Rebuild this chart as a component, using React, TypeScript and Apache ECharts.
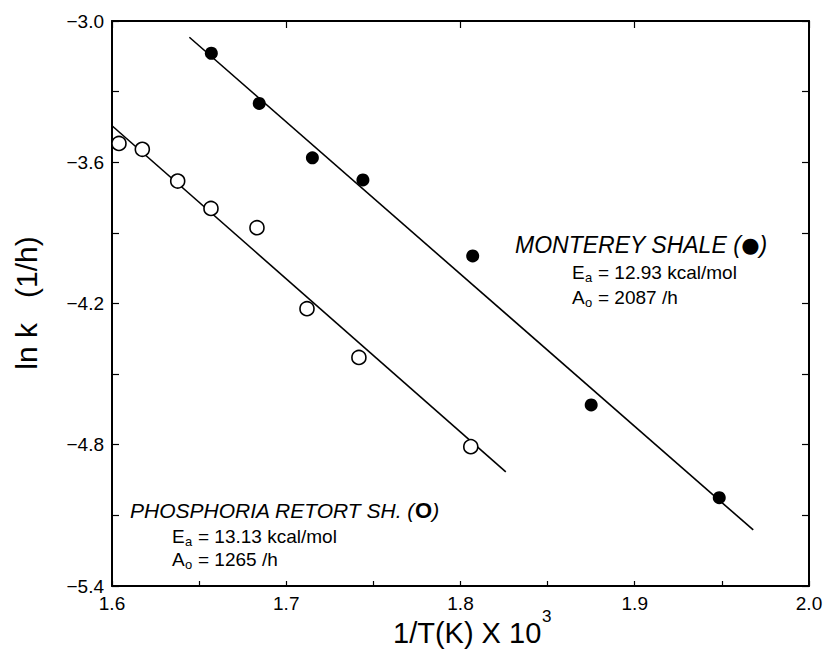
import React, { useEffect, useRef } from "react";
import * as echarts from "echarts";

// Data
const montereyPoints: [number, number][] = [
  [1.657, -3.137],
  [1.6845, -3.35],
  [1.715, -3.581],
  [1.744, -3.675],
  [1.807, -3.998],
  [1.875, -4.631],
  [1.9485, -5.025],
];
const phosphoriaPoints: [number, number][] = [
  [1.604, -3.52],
  [1.6174, -3.545],
  [1.6377, -3.68],
  [1.6568, -3.796],
  [1.6832, -3.878],
  [1.7119, -4.222],
  [1.7417, -4.429],
  [1.8059, -4.808],
];
const montereyFit: [number, number][] = [
  [1.6444, -3.069],
  [1.968, -5.162],
];
const phosphoriaFit: [number, number][] = [
  [1.6, -3.445],
  [1.826, -4.915],
];
const xMin = 1.6;
const xMax = 2.0;
const yMin = -5.4;
const yMax = -3.0;

const FONT = "'Liberation Sans', Arial, Helvetica, sans-serif";

export default function App() {
  const ref = useRef<HTMLDivElement>(null);
  useEffect(() => {
    if (!ref.current) return;
    const chart = echarts.init(ref.current, null, { renderer: "svg" });
    const axisLine = { show: true, lineStyle: { color: "#000", width: 2 } };
    const tickStyle = { color: "#000", width: 1.2 };
    const txt = (
      text: string,
      x: number,
      y: number,
      size: number,
      extra: any = {},
      el: any = {}
    ) => ({
      type: "text",
      x,
      y,
      silent: true,
      ...el,
      style: {
        text,
        fontSize: size,
        fontFamily: FONT,
        fill: "#000",
        align: "left",
        verticalAlign: "middle",
        textAlign: "left",
        textVerticalAlign: "middle",
        ...extra,
      },
    });
    chart.setOption({
      animation: false,
      backgroundColor: "#fff",
      grid: { left: 112, top: 21, width: 697, height: 565 },
      xAxis: [
        {
          type: "value",
          position: "bottom",
          min: xMin,
          max: xMax,
          interval: 0.05,
          axisLine,
          axisTick: { show: true, inside: true, length: 5, lineStyle: tickStyle },
          axisLabel: {
            show: true,
            margin: 8,
            color: "#000",
            fontSize: 19,
            fontFamily: FONT,
            hideOverlap: false,
            formatter: (v: number) =>
              Math.round(v * 100) % 10 === 0 ? v.toFixed(1) : "",
          },
          splitLine: { show: false },
        },
        {
          type: "value",
          position: "top",
          min: xMin,
          max: xMax,
          interval: 0.1,
          axisLine,
          axisTick: { show: true, inside: true, length: 7, lineStyle: tickStyle },
          axisLabel: { show: false },
          splitLine: { show: false },
        },
      ],
      yAxis: [
        {
          type: "value",
          position: "left",
          min: yMin,
          max: yMax,
          interval: 0.3,
          axisLine,
          axisTick: { show: true, inside: true, length: 7, lineStyle: tickStyle },
          axisLabel: {
            show: true,
            margin: 8,
            color: "#000",
            fontSize: 19,
            fontFamily: FONT,
            formatter: (v: number) =>
              Math.round(v * 10) % 6 === 0
                ? "\u2212" + Math.abs(v).toFixed(1)
                : "",
          },
          splitLine: { show: false },
        },
        {
          type: "value",
          position: "right",
          min: yMin,
          max: yMax,
          interval: 0.3,
          axisLine,
          axisTick: { show: true, inside: true, length: 7, lineStyle: tickStyle },
          axisLabel: { show: false },
          splitLine: { show: false },
        },
      ],
      series: [
        {
          type: "line",
          data: montereyFit,
          showSymbol: false,
          symbol: "none",
          lineStyle: { color: "#000", width: 1.6 },
          z: 1,
        },
        {
          type: "line",
          data: phosphoriaFit,
          showSymbol: false,
          symbol: "none",
          lineStyle: { color: "#000", width: 1.6 },
          z: 1,
        },
        {
          type: "scatter",
          data: montereyPoints,
          symbol: "circle",
          symbolSize: 13,
          itemStyle: { color: "#000", opacity: 1 },
          z: 3,
        },
        {
          type: "scatter",
          data: phosphoriaPoints,
          symbol: "circle",
          symbolSize: 14,
          itemStyle: { color: "#fff", borderColor: "#000", borderWidth: 1.6, opacity: 1 },
          z: 3,
        },
      ],
      graphic: [
        txt("ln k   (1/h)", 26, 303, 30, { align: "center", textAlign: "center" }, { rotation: Math.PI / 2 }),
        txt("1/T(K) X 10", 393, 633, 29),
        txt("3", 542, 616, 17),
        txt("MONTEREY SHALE ({dot|\u25CF})", 515, 245, 23, {
          fontStyle: "italic",
          rich: { dot: { fontSize: 21, fontStyle: "normal", fontFamily: "'DejaVu Sans', sans-serif" } },
        }),
        txt("E", 572, 272, 19),
        txt("a", 585, 277, 13),
        txt("= 12.93 kcal/mol", 598, 272, 19),
        txt("A", 572, 297, 19),
        txt("o", 585, 302, 13),
        txt("= 2087 /h", 598, 297, 19),
        txt("PHOSPHORIA RETORT SH. ({o|O})", 130, 510, 21, {
          fontStyle: "italic",
          rich: { o: { fontSize: 22, fontStyle: "normal", fontWeight: "bold" } },
        }),
        txt("E", 172, 536, 19),
        txt("a", 185, 541, 13),
        txt("= 13.13 kcal/mol", 198, 536, 19),
        txt("A", 172, 559, 19),
        txt("o", 185, 564, 13),
        txt("= 1265 /h", 198, 559, 19),
      ],
    });
    return () => chart.dispose();
  }, []);
  return (
    <div
      ref={ref}
      style={{ position: "fixed", left: 0, top: 0, width: 830, height: 652 }}
    />
  );
}
